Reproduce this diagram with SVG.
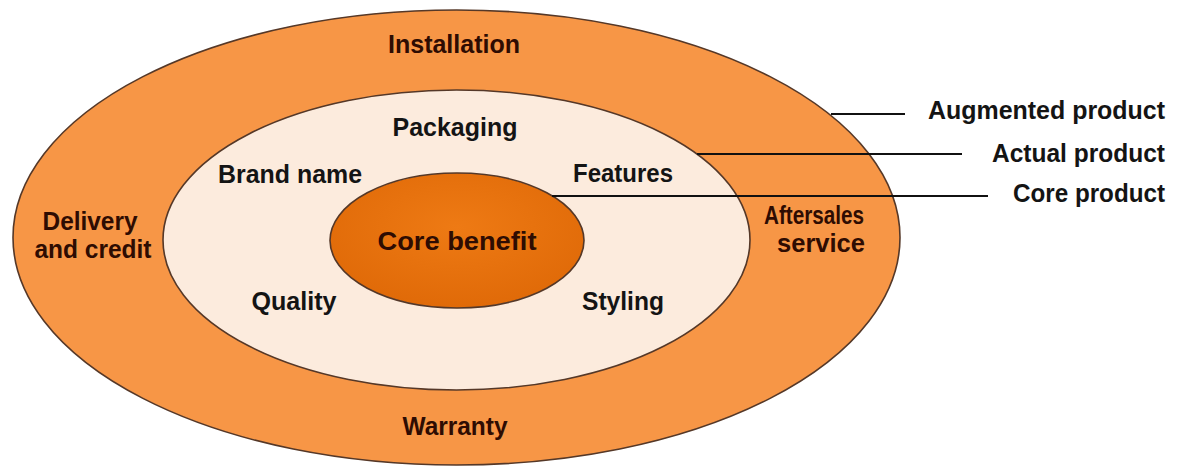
<svg xmlns="http://www.w3.org/2000/svg" width="1184" height="468" viewBox="0 0 1184 468">
<defs>
<radialGradient id="coreGrad" cx="50%" cy="40%" r="60%">
<stop offset="0" stop-color="#EE7A14"/>
<stop offset="1" stop-color="#E06A08"/>
</radialGradient>
<style>
.lbl{font-family:"Liberation Sans",Arial,sans-serif;font-weight:bold;font-size:26px;}
.dk{fill:#2e0c02;}
.bk{fill:#141414;}
.ring{stroke:#553828;stroke-width:1.6;}
.conn{stroke:#111;stroke-width:2;fill:none;}
</style>
</defs>
<rect width="1184" height="468" fill="#ffffff"/>
<g id="augmented">
<ellipse class="ring" cx="456.5" cy="237.5" rx="443.5" ry="227.5" fill="#F79646"/>
<text class="lbl dk" x="454" y="53" text-anchor="middle" textLength="132" lengthAdjust="spacingAndGlyphs">Installation</text>
<text class="lbl dk" x="90" y="230" text-anchor="middle" textLength="95" lengthAdjust="spacingAndGlyphs">Delivery</text>
<text class="lbl dk" x="93" y="258" text-anchor="middle" textLength="117" lengthAdjust="spacingAndGlyphs">and credit</text>
<text class="lbl dk" x="814" y="224" text-anchor="middle" textLength="100" lengthAdjust="spacingAndGlyphs">Aftersales</text>
<text class="lbl dk" x="821" y="252" text-anchor="middle" textLength="88" lengthAdjust="spacingAndGlyphs">service</text>
<text class="lbl dk" x="455" y="435" text-anchor="middle" textLength="105" lengthAdjust="spacingAndGlyphs">Warranty</text>
</g>
<g id="actual">
<ellipse class="ring" cx="456.5" cy="240" rx="293.5" ry="150" fill="#FCEBDD"/>
<text class="lbl bk" x="455" y="136" text-anchor="middle" textLength="125" lengthAdjust="spacingAndGlyphs">Packaging</text>
<text class="lbl bk" x="290" y="183" text-anchor="middle" textLength="144" lengthAdjust="spacingAndGlyphs">Brand name</text>
<text class="lbl bk" x="623" y="182" text-anchor="middle" textLength="100" lengthAdjust="spacingAndGlyphs">Features</text>
<text class="lbl bk" x="294" y="310" text-anchor="middle" textLength="85" lengthAdjust="spacingAndGlyphs">Quality</text>
<text class="lbl bk" x="623" y="310" text-anchor="middle" textLength="82" lengthAdjust="spacingAndGlyphs">Styling</text>
</g>
<g id="core">
<ellipse class="ring" cx="457" cy="240.5" rx="127" ry="67.5" fill="url(#coreGrad)"/>
<text class="lbl dk" x="457" y="250" text-anchor="middle" textLength="159" lengthAdjust="spacingAndGlyphs">Core benefit</text>
</g>
<g id="connectors">
<line class="conn" x1="831" y1="114" x2="905" y2="114"/>
<line class="conn" x1="697" y1="154" x2="962" y2="154"/>
<line class="conn" x1="552" y1="196" x2="988" y2="196"/>
</g>
<g id="legend">
<text class="lbl bk" x="1165" y="119" text-anchor="end" textLength="237" lengthAdjust="spacingAndGlyphs">Augmented product</text>
<text class="lbl bk" x="1165" y="162" text-anchor="end" textLength="173" lengthAdjust="spacingAndGlyphs">Actual product</text>
<text class="lbl bk" x="1165" y="202" text-anchor="end" textLength="152" lengthAdjust="spacingAndGlyphs">Core product</text>
</g>
</svg>
